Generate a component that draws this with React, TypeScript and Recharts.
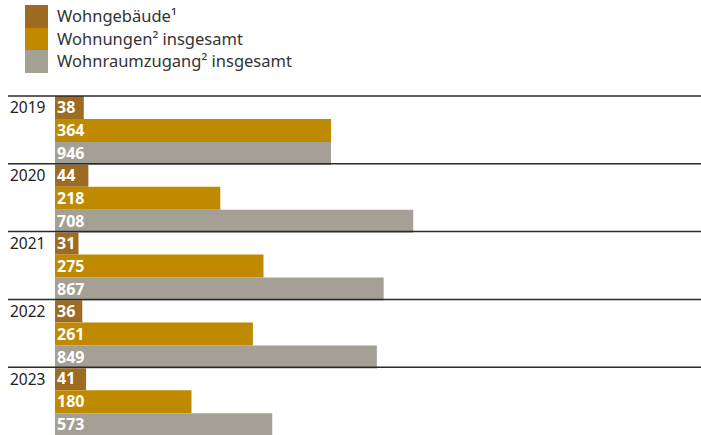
import { BarChart, Bar, XAxis, YAxis, LabelList } from "recharts";

const jahre = ["2019", "2020", "2021", "2022", "2023"];
const wohngebaeude = [38, 44, 31, 36, 41];
const wohnungen = [364, 218, 275, 261, 180];
const wohnraumzugang = [946, 708, 867, 849, 573];
// Balkenlängen wie im Original gezeichnet (2019/2020 passen dort nicht zur Beschriftung)
const wohnraumzugangBalken = [728, 945, 867, 849, 573];

const legendItems = [
  { label: "Wohngebäude¹", color: "#9e6b23" },
  { label: "Wohnungen² insgesamt", color: "#bf8a00" },
  { label: "Wohnraumzugang² insgesamt", color: "#a4a095" },
];

const data = jahre.map((jahr, i) => ({
  jahr,
  gebaeude: wohngebaeude[i],
  wohnungen: wohnungen[i],
  zugang: wohnraumzugangBalken[i],
  zugangLabel: wohnraumzugang[i],
}));

const FONT = "'Noto Sans', sans-serif";
const CHART_TOP = 96;
const CHART_H = 435;
const BAND = (CHART_H - CHART_TOP) / jahre.length;

const YearTick = ({ y, payload }: any) => {
  const top = y - BAND / 2;
  return (
    <g>
      <line x1={8} x2={701} y1={top} y2={top} stroke="#2a2a2a" strokeWidth={1.5} />
      <text x={10} y={top + BAND / 6} dominantBaseline="central" fontSize={15.5} fill="#222" fontFamily={FONT}>
        {payload.value}
      </text>
    </g>
  );
};

const labelProps = {
  position: "insideLeft" as const,
  offset: 2,
  fill: "#fff",
  fontSize: 16,
  fontWeight: 700,
  fontFamily: FONT,
};

export default function App() {
  return (
    <div style={{ position: "absolute", left: 0, top: 0, width: 701, height: 435, background: "#fff", fontFamily: FONT }}>
      <div style={{ position: "absolute", left: 25, top: 5 }}>
        {legendItems.map((item) => (
          <div key={item.label} style={{ display: "flex", alignItems: "center", height: 22.5 }}>
            <div style={{ width: 23, height: 22.5, background: item.color }} />
            <span style={{ marginLeft: 9, fontSize: 16.5, color: "#333", lineHeight: "22px" }}>{item.label}</span>
          </div>
        ))}
      </div>
      <BarChart
        width={701}
        height={CHART_H}
        data={data}
        layout="vertical"
        margin={{ top: CHART_TOP, right: 0, bottom: 0, left: 8 }}
        barCategoryGap={0}
        barGap={0}
      >
        <XAxis xAxisId="main" type="number" domain={[0, 852]} hide />
        <XAxis xAxisId="zugang" type="number" domain={[0, 1704]} hide />
        <YAxis
          type="category"
          dataKey="jahr"
          width={47}
          axisLine={false}
          tickLine={false}
          interval={0}
          tick={<YearTick />}
        />
        <Bar xAxisId="main" dataKey="gebaeude" fill="#9e6b23" isAnimationActive={false}>
          <LabelList dataKey="gebaeude" {...labelProps} />
        </Bar>
        <Bar xAxisId="main" dataKey="wohnungen" fill="#bf8a00" isAnimationActive={false}>
          <LabelList dataKey="wohnungen" {...labelProps} />
        </Bar>
        <Bar xAxisId="zugang" dataKey="zugang" fill="#a4a095" isAnimationActive={false}>
          <LabelList dataKey="zugangLabel" {...labelProps} />
        </Bar>
      </BarChart>
    </div>
  );
}
